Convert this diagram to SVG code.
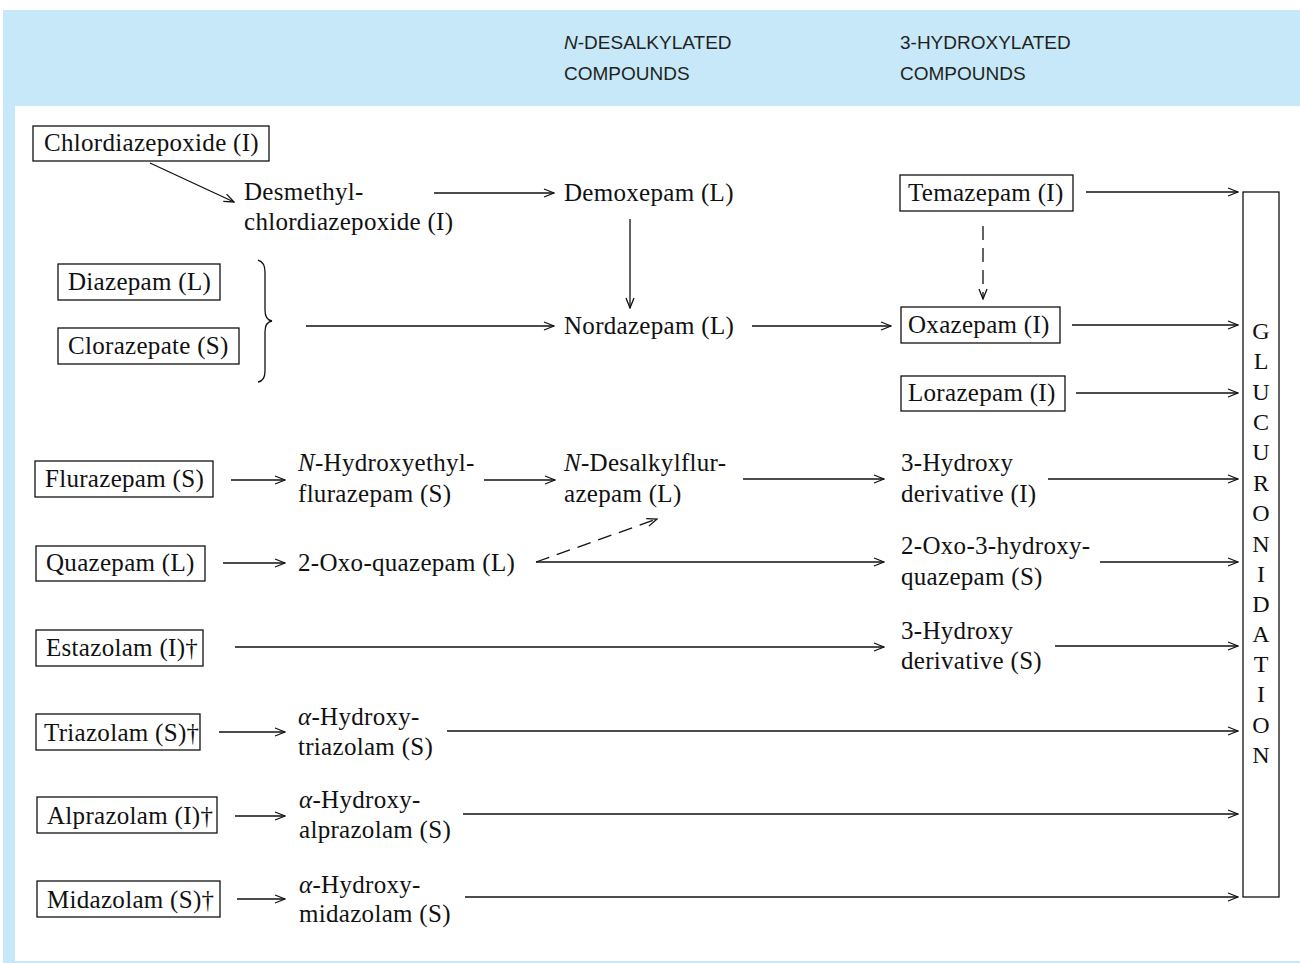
<svg xmlns="http://www.w3.org/2000/svg" width="1300" height="963" viewBox="0 0 1300 963">
<defs>
<style>
.hd{font-family:"Liberation Sans",Arial,sans-serif;font-size:19px;fill:#231f20}
.t{font-family:"Liberation Serif","Times New Roman",serif;font-size:25px;letter-spacing:0.3px;fill:#111}
.box{fill:none;stroke:#111;stroke-width:1.3}
.ln{fill:none;stroke:#111;stroke-width:1.3;marker-end:url(#ah)}
.dash{stroke-dasharray:14 8}
.g{font-family:"Liberation Serif","Times New Roman",serif;font-size:24px;fill:#111;text-anchor:middle}
</style>
<marker id="ah" viewBox="0 0 12 10" refX="11" refY="5" markerWidth="12" markerHeight="10" markerUnits="userSpaceOnUse" orient="auto">
<path d="M1,1 L11,5 L1,9" fill="none" stroke="#111" stroke-width="1.3"/>
</marker>
</defs>
<rect x="0" y="0" width="1300" height="963" fill="#fff"/>
<rect x="3" y="10" width="1297" height="953" fill="#c6e8f8"/>
<rect x="15" y="106" width="1285" height="855" fill="#fff"/>

<g id="header">
<text class="hd" x="564" y="49"><tspan font-style="italic">N</tspan>-DESALKYLATED</text>
<text class="hd" x="564" y="80">COMPOUNDS</text>
<text class="hd" x="900" y="49">3-HYDROXYLATED</text>
<text class="hd" x="900" y="80">COMPOUNDS</text>
</g>

<g id="connectors">
<path class="ln" d="M150,163 L234,202"/>
<path class="ln" d="M434,193 L554,193"/>
<path class="ln" d="M630,219 L630,308"/>
<path class="ln" d="M1086,192 L1238,192"/>
<path class="ln dash" d="M983,226 L983,299"/>
<path d="M258,260 Q265,262 265,272 L265,310 Q265,320 272,321 Q265,322 265,332 L265,371 Q265,381 258,382" fill="none" stroke="#111" stroke-width="1.3"/>
<path class="ln" d="M306,326 L554,326"/>
<path class="ln" d="M752,326 L891,326"/>
<path class="ln" d="M1072,325 L1238,325"/>
<path class="ln" d="M1076,393 L1238,393"/>
<path class="ln" d="M231,480 L285,480"/>
<path class="ln" d="M484,480 L555,480"/>
<path class="ln" d="M743,479 L884,479"/>
<path class="ln" d="M1048,479 L1238,479"/>
<path class="ln" d="M223,563 L285,563"/>
<path class="ln" d="M536,562 L884,562"/>
<path class="ln dash" d="M536,562 L657,519"/>
<path class="ln" d="M1100,562 L1238,562"/>
<path class="ln" d="M235,647 L884,647"/>
<path class="ln" d="M1055,646 L1238,646"/>
<path class="ln" d="M219,732 L285,732"/>
<path class="ln" d="M447,731 L1238,731"/>
<path class="ln" d="M235,816 L285,816"/>
<path class="ln" d="M463,814 L1238,814"/>
<path class="ln" d="M237,899 L285,899"/>
<path class="ln" d="M465,897 L1238,897"/>
</g>

<g id="chlordiazepoxide"><rect class="box" x="33" y="126" width="236" height="35"/><text class="t" x="44" y="151">Chlordiazepoxide (I)</text></g>
<g id="desmethylchlordiazepoxide"><text class="t" x="244" y="200">Desmethyl-</text><text class="t" x="244" y="230">chlordiazepoxide (I)</text></g>
<g id="demoxepam"><text class="t" x="564" y="201">Demoxepam (L)</text></g>
<g id="temazepam"><rect class="box" x="900" y="175" width="173" height="36"/><text class="t" x="908" y="201">Temazepam (I)</text></g>
<g id="diazepam"><rect class="box" x="58" y="264" width="162" height="36"/><text class="t" x="68" y="290">Diazepam (L)</text></g>
<g id="clorazepate"><rect class="box" x="58" y="328" width="181" height="36"/><text class="t" x="68" y="354">Clorazepate (S)</text></g>
<g id="nordazepam"><text class="t" x="564" y="334">Nordazepam (L)</text></g>
<g id="oxazepam"><rect class="box" x="901" y="307" width="159" height="36"/><text class="t" x="908" y="333">Oxazepam (I)</text></g>
<g id="lorazepam"><rect class="box" x="901" y="376" width="164" height="35"/><text class="t" x="908" y="401">Lorazepam (I)</text></g>
<g id="flurazepam"><rect class="box" x="35" y="461" width="178" height="36"/><text class="t" x="45" y="487">Flurazepam (S)</text></g>
<g id="hydroxyethylflurazepam"><text class="t" x="298" y="471"><tspan font-style="italic">N</tspan>-Hydroxyethyl-</text><text class="t" x="298" y="502">flurazepam (S)</text></g>
<g id="desalkylflurazepam"><text class="t" x="564" y="471"><tspan font-style="italic">N</tspan>-Desalkylflur-</text><text class="t" x="564" y="502">azepam (L)</text></g>
<g id="hydroxyderivative1"><text class="t" x="901" y="471">3-Hydroxy</text><text class="t" x="901" y="502">derivative (I)</text></g>
<g id="quazepam"><rect class="box" x="36" y="546" width="169" height="35"/><text class="t" x="46" y="571">Quazepam (L)</text></g>
<g id="oxoquazepam"><text class="t" x="298" y="571">2-Oxo-quazepam (L)</text></g>
<g id="oxohydroxyquazepam"><text class="t" x="901" y="554">2-Oxo-3-hydroxy-</text><text class="t" x="901" y="585">quazepam (S)</text></g>
<g id="estazolam"><rect class="box" x="36" y="630" width="167" height="36"/><text class="t" x="46" y="656">Estazolam (I)†</text></g>
<g id="hydroxyderivative2"><text class="t" x="901" y="639">3-Hydroxy</text><text class="t" x="901" y="669">derivative (S)</text></g>
<g id="triazolam"><rect class="box" x="36" y="714" width="164" height="36"/><text class="t" x="44" y="741">Triazolam (S)†</text></g>
<g id="hydroxytriazolam"><text class="t" x="298" y="725"><tspan font-style="italic">α</tspan>-Hydroxy-</text><text class="t" x="298" y="755">triazolam (S)</text></g>
<g id="alprazolam"><rect class="box" x="37" y="797" width="180" height="36"/><text class="t" x="47" y="824">Alprazolam (I)†</text></g>
<g id="hydroxyalprazolam"><text class="t" x="299" y="808"><tspan font-style="italic">α</tspan>-Hydroxy-</text><text class="t" x="299" y="838">alprazolam (S)</text></g>
<g id="midazolam"><rect class="box" x="37" y="881" width="183" height="36"/><text class="t" x="47" y="908">Midazolam (S)†</text></g>
<g id="hydroxymidazolam"><text class="t" x="299" y="893"><tspan font-style="italic">α</tspan>-Hydroxy-</text><text class="t" x="299" y="922">midazolam (S)</text></g>

<g id="glucuronidation">
<rect class="box" x="1243" y="192" width="36" height="705"/>
<text class="g" x="1261" y="339">G</text>
<text class="g" x="1261" y="369">L</text>
<text class="g" x="1261" y="400">U</text>
<text class="g" x="1261" y="430">C</text>
<text class="g" x="1261" y="460">U</text>
<text class="g" x="1261" y="491">R</text>
<text class="g" x="1261" y="521">O</text>
<text class="g" x="1261" y="552">N</text>
<text class="g" x="1261" y="582">I</text>
<text class="g" x="1261" y="612">D</text>
<text class="g" x="1261" y="642">A</text>
<text class="g" x="1261" y="672">T</text>
<text class="g" x="1261" y="702">I</text>
<text class="g" x="1261" y="733">O</text>
<text class="g" x="1261" y="763">N</text>
</g>
</svg>
